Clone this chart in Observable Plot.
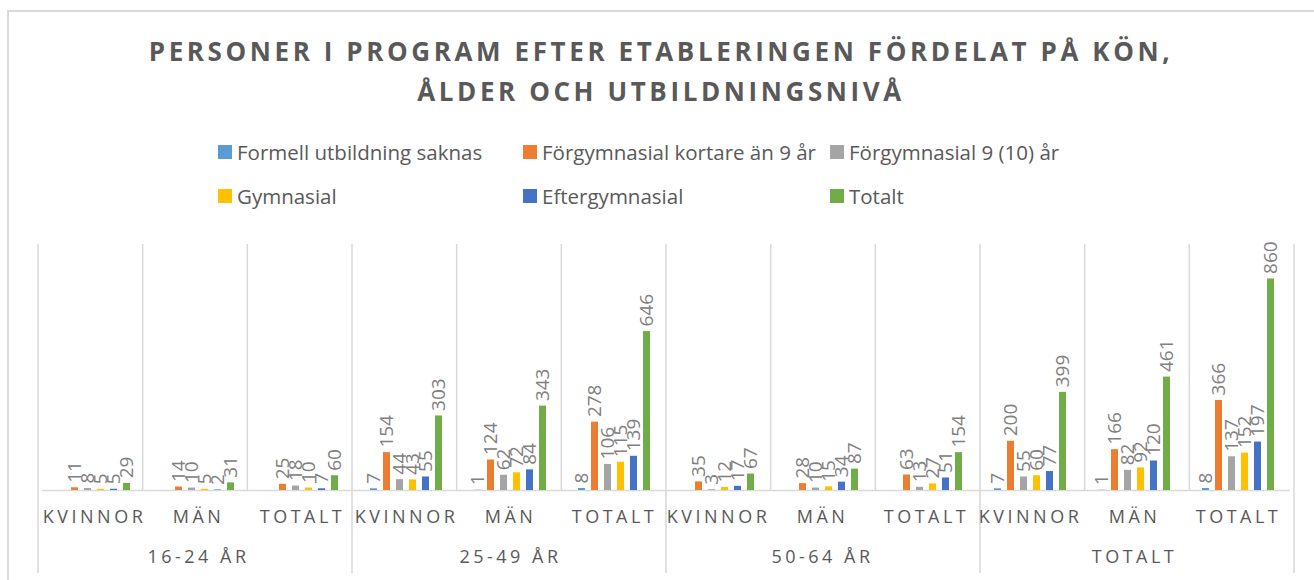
<!DOCTYPE html>
<html>
<head>
<meta charset="utf-8">
<script src="https://cdn.jsdelivr.net/npm/d3@7"></script>
<script src="https://cdn.jsdelivr.net/npm/@observablehq/plot@0.6"></script>
<style>
  html, body { margin: 0; padding: 0; background: #fff; }
  body { width: 1314px; height: 580px; position: relative; overflow: hidden; font-family: "Open Sans", "Noto Sans", sans-serif; }
  #box { position: absolute; left: 7px; top: 10px; width: 1340px; height: 600px; border: 2px solid #d9d9d9; box-sizing: border-box; }
  #title { position: absolute; left: 0; top: 31px; width: 1322px; text-align: center; color: #595959; font-weight: bold; font-size: 26px; letter-spacing: 3.6px; line-height: 40px; }
  .leg { position: absolute; display: flex; align-items: center; color: #595959; font-size: 20.5px; white-space: nowrap; }
  .sw { width: 14px; height: 14px; margin-right: 5px; }
  #chart { position: absolute; left: 0; top: 230px; }
</style>
</head>
<body>
<div id="box"></div>
<div id="title">PERSONER I PROGRAM EFTER ETABLERINGEN FÖRDELAT PÅ KÖN,<br>ÅLDER OCH UTBILDNINGSNIVÅ</div>
<div id="legend"></div>
<div id="chart"></div>
<script>
// ---- data ----
const groups = ["16-24 ÅR", "25-49 ÅR", "50-64 ÅR", "TOTALT"];
const subs = ["KVINNOR", "MÄN", "TOTALT"];
const series = ["Formell utbildning saknas", "Förgymnasial kortare än 9 år", "Förgymnasial 9 (10) år", "Gymnasial", "Eftergymnasial", "Totalt"];
const colors = ["#5B9BD5", "#ED7D31", "#A5A5A5", "#FFC000", "#4472C4", "#70AD47"];
const formell     = [null, null, null, 7, 1, 8, null, null, null, 7, 1, 8];
const forgymKort  = [11, 14, 25, 154, 124, 278, 35, 28, 63, 200, 166, 366];
const forgym9     = [8, 10, 18, 44, 62, 106, 3, 10, 13, 55, 82, 137];
const gymnasial   = [5, 5, 10, 43, 72, 115, 12, 15, 27, 60, 92, 152];
const eftergym    = [5, 2, 7, 55, 84, 139, 17, 34, 51, 77, 120, 197];
const totalt      = [29, 31, 60, 303, 343, 646, 67, 87, 154, 399, 461, 860];
const seriesValues = [formell, forgymKort, forgym9, gymnasial, eftergym, totalt];

// ---- build table ----
const cats = [];
groups.forEach((g, gi) => subs.forEach((s, si) => cats.push({key: gi + "|" + s, group: g, sub: s, gi, si})));
const keys = cats.map(c => c.key);
const rows = [];
seriesValues.forEach((vals, k) => vals.forEach((v, i) => {
  if (v != null) rows.push({key: keys[i], series: series[k], value: v});
}));

// ---- legend ----
const legendPos = [[218, 152], [523, 152], [830, 152], [218, 196], [523, 196], [830, 196]];
const legend = document.getElementById("legend");
series.forEach((s, i) => {
  const d = document.createElement("div");
  d.className = "leg";
  d.style.left = legendPos[i][0] + "px";
  d.style.top = (legendPos[i][1] - 14) + "px";
  d.style.height = "28px";
  d.innerHTML = `<div class="sw" style="background:${colors[i]}"></div><span>${s}</span>`;
  legend.appendChild(d);
});

// ---- chart ----
const W = 1314, H = 350;
const plot = Plot.plot({
  width: W, height: H,
  marginLeft: 38, marginRight: 20, marginTop: 14, marginBottom: 90,
  style: {fontFamily: "'Open Sans', 'Noto Sans', sans-serif", background: "transparent", overflow: "visible"},
  fx: {domain: keys, padding: 0, axis: null},
  x: {domain: series, paddingInner: 0.47, paddingOuter: 1.17, axis: null},
  y: {domain: [0, 1000], axis: null},
  color: {domain: series, range: colors},
  marks: [
    Plot.ruleY(cats, {fx: "key", y: () => 0, stroke: "#d9d9d9", strokeWidth: 1.5}),
    Plot.barY(rows, {fx: "key", x: "series", y: "value", fill: "series"}),
    Plot.text(rows, {fx: "key", x: "series", y: "value", text: d => String(d.value), rotate: -90,
      textAnchor: "start", lineAnchor: "middle", dy: -5, fill: "#808080", fontSize: 19}),
    Plot.text(cats, {fx: "key", text: "sub", frameAnchor: "bottom", dy: 32, fill: "#595959", fontSize: 18}),
    Plot.text(cats.filter(c => c.si === 1), {fx: "key", text: "group", frameAnchor: "bottom", dy: 72, fill: "#595959", fontSize: 18})
  ]
});
document.getElementById("chart").appendChild(plot);

// letter spacing on category labels
const labelSet = new Set([...subs, ...groups]);
d3.select(plot).selectAll("text").filter(function() { return labelSet.has(this.textContent); })
  .attr("letter-spacing", "3.5px");

// gridlines (category separators) from the fx scale
const fxs = plot.scale("fx");
const stepX = (fxs.range[1] - fxs.range[0]) / keys.length;
const gridTop = 14, gridBase = H - 90, gridBottom = 343;
const gl = d3.select(plot).insert("g", ":first-child").attr("stroke", "#d9d9d9").attr("stroke-width", 1.5);
for (let i = 0; i <= keys.length; i++) {
  const x = fxs.range[0] + i * stepX;
  const major = i % 3 === 0;
  gl.append("line").attr("x1", x).attr("x2", x).attr("y1", gridTop).attr("y2", major ? gridBottom : gridBase);
}
</script>
</body>
</html>
